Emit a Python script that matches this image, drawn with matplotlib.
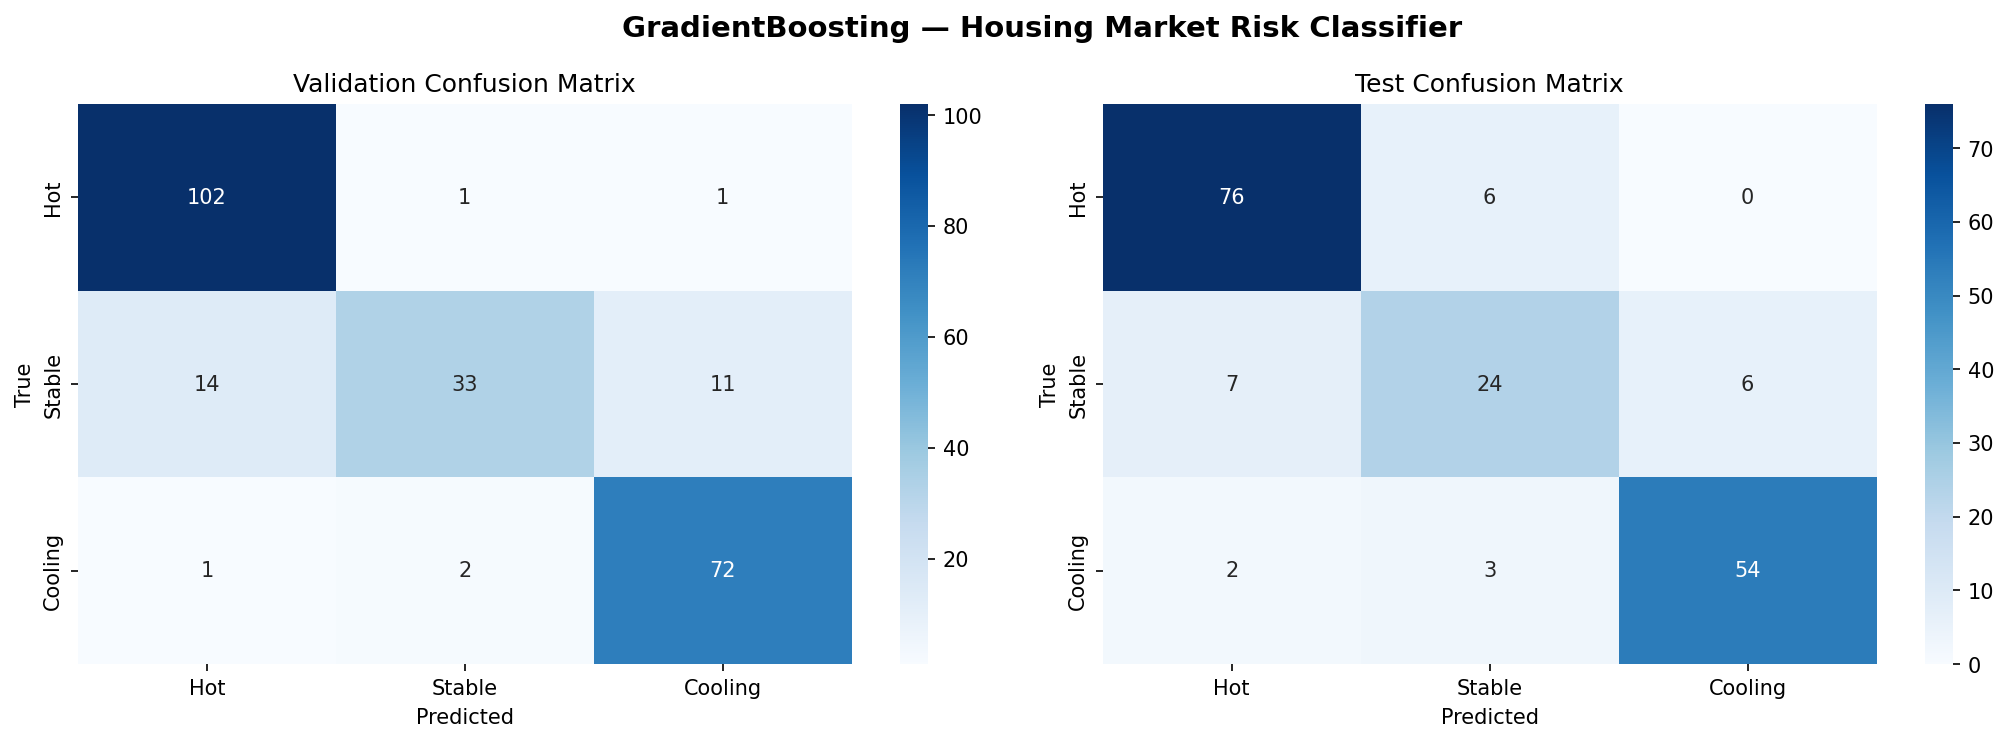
import numpy as np
import matplotlib
matplotlib.use("Agg")
from matplotlib import pyplot as plt
import seaborn as sns

labels = ["Hot", "Stable", "Cooling"]
val_cm = [[102, 1, 1],
          [14, 33, 11],
          [1, 2, 72]]
test_cm = [[76, 6, 0],
           [7, 24, 6],
           [2, 3, 54]]

fig, axes = plt.subplots(1, 2, figsize=(14, 5), dpi=150)

for ax, cm, title in zip(axes, [val_cm, test_cm],
                         ["Validation Confusion Matrix", "Test Confusion Matrix"]):
    sns.heatmap(np.array(cm), annot=True, fmt="d", cmap="Blues",
                xticklabels=labels, yticklabels=labels, ax=ax)
    ax.set_title(title, fontsize=12)
    ax.set_xlabel("Predicted")
    ax.set_ylabel("True")

fig.suptitle("GradientBoosting \u2014 Housing Market Risk Classifier",
             fontsize=14, fontweight="bold")
plt.tight_layout()
plt.savefig("out.png", dpi=150, bbox_inches="tight")
